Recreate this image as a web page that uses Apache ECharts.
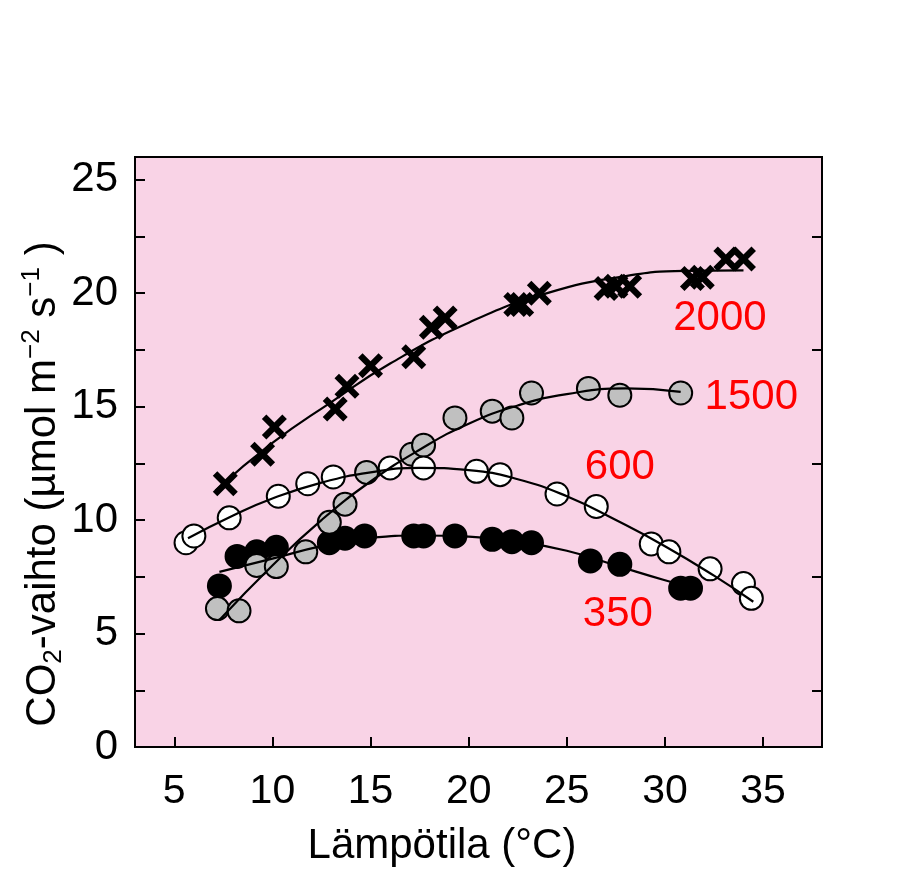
<!DOCTYPE html>
<html>
<head>
<meta charset="utf-8">
<script src="https://cdn.jsdelivr.net/npm/echarts@6/dist/echarts.min.js"></script>
<style>
  html, body { margin: 0; padding: 0; background: #fff; }
  #main { width: 903px; height: 893px; }
</style>
</head>
<body>
<div id="main"></div>
<script>
const temp350 = [7.3, 8.2, 9.2, 10.2, 12.9, 13.7, 14.7, 17.2, 17.7, 19.3, 21.2, 22.2, 23.2, 26.2, 27.7, 30.8, 31.3];
const co2_350 = [7.1, 8.4, 8.6, 8.8, 9.0, 9.2, 9.3, 9.3, 9.3, 9.3, 9.15, 9.05, 9.0, 8.2, 8.05, 7.0, 7.0];

const temp1500 = [7.2, 8.3, 9.2, 10.2, 11.7, 12.9, 13.7, 14.8, 17.1, 17.7, 19.3, 21.2, 22.2, 23.2, 26.1, 27.7, 30.8];
const co2_1500 = [6.1, 6.0, 8.0, 7.95, 8.6, 9.9, 10.7, 12.1, 12.9, 13.3, 14.5, 14.8, 14.5, 15.6, 15.8, 15.5, 15.6];

const temp600 = [5.6, 6.0, 7.8, 10.3, 11.8, 13.1, 16.0, 17.7, 20.4, 21.6, 24.5, 26.5, 29.3, 30.2, 32.3, 34.0, 34.4];
const co2_600 = [9.0, 9.3, 10.1, 11.05, 11.6, 11.9, 12.3, 12.3, 12.15, 12.0, 11.15, 10.6, 8.95, 8.6, 7.85, 7.2, 6.55];

const temp2000 = [7.6, 9.5, 10.1, 13.2, 13.8, 15.0, 17.2, 18.1, 18.8, 22.4, 22.7, 23.6, 27.0, 27.5, 28.2, 31.4, 31.9, 33.1, 34.0];
const co2_2000 = [11.6, 12.9, 14.1, 14.9, 15.9, 16.8, 17.2, 18.5, 18.9, 19.5, 19.5, 20.0, 20.2, 20.3, 20.3, 20.65, 20.7, 21.5, 21.5];

// fitted curves, points
const fit350X = [7.3, 10, 12.5, 15, 17.5, 20, 22.5, 25, 27.5, 30, 31.7];
const fit350Y = [7.72, 8.3, 8.85, 9.22, 9.32, 9.27, 9.05, 8.65, 8.0, 7.35, 6.95];

const fit1500X = [7.3, 10, 12.5, 15, 17.5, 20, 22.5, 25, 28, 30.8];
const fit1500Y = [5.6, 8.0, 10.0, 11.7, 13.1, 14.25, 15.05, 15.55, 15.8, 15.65];

const fit600X = [5.7, 8, 10, 12.5, 15, 17.5, 20, 22.5, 25, 27.5, 30, 32.5, 34.5];
const fit600Y = [9.2, 10.2, 10.95, 11.65, 12.1, 12.3, 12.2, 11.8, 11.05, 10.0, 8.85, 7.55, 6.4];

const fit2000X = [7.1, 10, 13, 16, 20, 24, 28, 31, 34];
const fit2000Y = [11.3, 13.4, 15.2, 16.9, 18.7, 20.0, 20.75, 20.98, 21.0];

// curve labels (CO2 concentration, ppm) at their data position
const curveLabels = [
  { name: '2000', value: [32.8, 18.9] },
  { name: '1500', value: [34.4, 15.4] },
  { name: '600', value: [27.7, 12.3] },
  { name: '350', value: [27.6, 5.85] }
];

const xTicks = [5, 10, 15, 20, 25, 30, 35];
const yTicks = [0, 5, 10, 15, 20, 25];
const yLeftTicks = [0, 2.5, 5, 7.5, 10, 12.5, 15, 17.5, 20, 22.5, 25];
const yRightTicks = [2.5, 7.5, 12.5, 17.5, 22.5];

const FONT = 'Liberation Sans, Arial, sans-serif';

function zip(xs, ys) {
  return xs.map((x, i) => [x, ys[i]]);
}

// thick "x" marker
const crossPath = 'path://M0,3.6 L3.6,0 L10,6.4 L16.4,0 L20,3.6 L13.6,10 L20,16.4 L16.4,20 L10,13.6 L3.6,20 L0,16.4 L6.4,10 Z';

const chart = echarts.init(document.getElementById('main'));

const axisLine = { show: true, lineStyle: { color: '#000', width: 2 } };
const tickStyle = { color: '#000', width: 2 };

const fitLine = (name, xs, ys) => ({
  name: name,
  type: 'line',
  data: zip(xs, ys),
  smooth: true,
  showSymbol: false,
  z: 5,
  lineStyle: { color: '#000', width: 2.2 },
  silent: true
});

const dots = (name, xs, ys, fill) => ({
  name: name,
  type: 'scatter',
  data: zip(xs, ys),
  symbol: 'circle',
  symbolSize: 23,
  itemStyle: { color: fill, borderColor: '#000', borderWidth: 2, opacity: 1 }
});

const option = {
  backgroundColor: '#fff',
  animation: false,
  grid: {
    left: 135,
    top: 157,
    right: 81,
    bottom: 146,
    show: true,
    backgroundColor: '#f9d3e6',
    borderColor: '#000',
    borderWidth: 2
  },
  xAxis: [
    {
      type: 'value',
      min: 3,
      max: 38,
      axisLine: axisLine,
      axisTick: { show: true, inside: true, length: 10, lineStyle: tickStyle, customValues: xTicks },
      axisLabel: { customValues: xTicks, margin: 24, fontSize: 41, color: '#000', fontFamily: FONT },
      splitLine: { show: false }
    }
  ],
  yAxis: [
    {
      type: 'value',
      min: 0,
      max: 26,
      position: 'left',
      axisLine: axisLine,
      axisTick: { show: true, inside: true, length: 10, lineStyle: tickStyle, customValues: yLeftTicks },
      axisLabel: { customValues: yTicks, margin: 17, fontSize: 42, color: '#000', fontFamily: FONT },
      splitLine: { show: false }
    },
    {
      type: 'value',
      min: 0,
      max: 26,
      position: 'right',
      axisLine: axisLine,
      axisTick: { show: true, inside: true, length: 10, lineStyle: tickStyle, customValues: yRightTicks },
      axisLabel: { show: false },
      splitLine: { show: false }
    }
  ],
  graphic: [
    {
      type: 'text',
      x: 442,
      y: 846,
      style: {
        text: 'Lämpötila (°C)',
        font: '42px ' + FONT,
        fill: '#000',
        align: 'center',
        verticalAlign: 'middle'
      }
    },
    {
      type: 'text',
      x: 43,
      y: 484,
      rotation: Math.PI / 2,
      style: {
        text: '{n|CO}{sub|2}{n|-vaihto (µmol m}{sup|\u22122}{n| s}{sup|\u22121}{n| )}',
        fill: '#000',
        align: 'center',
        verticalAlign: 'middle',
        rich: {
          n: { fontSize: 42, fontFamily: FONT, lineHeight: 48, fill: '#000' },
          sub: { fontSize: 26, fontFamily: FONT, lineHeight: 22, verticalAlign: 'bottom', fill: '#000' },
          sup: { fontSize: 26, fontFamily: FONT, lineHeight: 22, verticalAlign: 'top', fill: '#000' }
        }
      }
    }
  ],
  series: [
    dots('350', temp350, co2_350, '#000'),
    dots('1500', temp1500, co2_1500, '#c0c0c0'),
    dots('600', temp600, co2_600, '#fff'),
    {
      name: '2000',
      type: 'scatter',
      data: zip(temp2000, co2_2000),
      symbol: crossPath,
      symbolSize: 25,
      itemStyle: { color: '#000', opacity: 1 }
    },
    fitLine('fit350', fit350X, fit350Y),
    fitLine('fit1500', fit1500X, fit1500Y),
    fitLine('fit600', fit600X, fit600Y),
    fitLine('fit2000', fit2000X, fit2000Y),
    {
      name: 'labels',
      type: 'scatter',
      data: curveLabels,
      symbolSize: 0,
      silent: true,
      z: 6,
      itemStyle: { opacity: 1 },
      label: {
        show: true,
        position: 'inside',
        formatter: '{b}',
        fontSize: 42,
        fontFamily: FONT,
        color: '#ff0000',
        opacity: 1
      }
    }
  ]
};

chart.setOption(option);
</script>
</body>
</html>
